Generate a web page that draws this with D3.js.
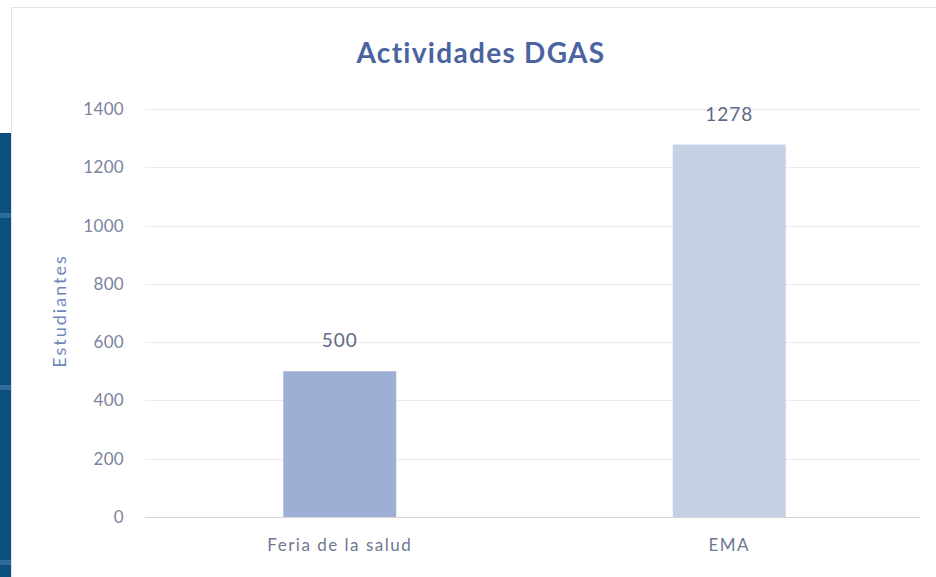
<!DOCTYPE html>
<html>
<head>
<meta charset="utf-8">
<script src="https://cdn.jsdelivr.net/npm/d3@7"></script>
<style>
  body { margin: 0; background: #ffffff; }
  svg { display: block; font-family: Lato, "Open Sans", sans-serif; }
</style>
</head>
<body>
<div class="container"></div>
<script>
const width = 936;
const height = 577;

const categories = ["Feria de la salud", "EMA"];
const students = [500, 1278];
const barColors = ["#9eafd5", "#c6d0e4"];
const yTicks = [0, 200, 400, 600, 800, 1000, 1200, 1400];

const margin = {top: 109, right: 12, bottom: 60, left: 145};

const svg = d3.select(".container")
    .append("svg")
    .attr("width", width)
    .attr("height", height);

// page background bits: blue strip on the left + chart frame
svg.append("rect")
    .attr("x", 0).attr("y", 133)
    .attr("width", 11).attr("height", height - 133)
    .attr("fill", "#0c5082");
[213, 385, 560].forEach(y => {
    svg.append("rect")
        .attr("x", 0).attr("y", y)
        .attr("width", 11).attr("height", 5)
        .attr("fill", "#2f6d99");
});
svg.append("line")
    .attr("x1", 11.5).attr("x2", 11.5)
    .attr("y1", 7).attr("y2", height)
    .attr("stroke", "#e2e2e2");
svg.append("line")
    .attr("x1", 11).attr("x2", width)
    .attr("y1", 7.5).attr("y2", 7.5)
    .attr("stroke", "#e2e2e2");

const x = d3.scaleBand()
    .domain(categories)
    .range([margin.left, width - margin.right])
    .paddingInner(0.71)
    .paddingOuter(0.355);

const y = d3.scaleLinear()
    .domain([0, 1400])
    .range([height - margin.bottom, margin.top]);

// gridlines
svg.append("g")
    .selectAll("line")
    .data(yTicks)
    .enter()
    .append("line")
    .attr("x1", margin.left)
    .attr("x2", width - 16)
    .attr("y1", d => Math.round(y(d)) + 0.5)
    .attr("y2", d => Math.round(y(d)) + 0.5)
    .attr("stroke", d => d === 0 ? "#d6d6d6" : "#ececec")
    .attr("stroke-width", 1);

// y axis labels
const yAxis = d3.axisLeft(y)
    .tickValues(yTicks)
    .tickFormat(d3.format("d"))
    .tickSize(0)
    .tickPadding(21);

svg.append("g")
    .attr("transform", `translate(${margin.left},0)`)
    .call(yAxis)
    .call(g => g.select(".domain").remove())
    .selectAll("text")
    .attr("fill", "#7b849c")
    .attr("font-size", 17)
    .attr("letter-spacing", 0.3)
    .attr("font-family", "Lato, sans-serif");

// bars
svg.append("g")
    .selectAll("rect")
    .data(categories)
    .enter()
    .append("rect")
    .attr("x", d => x(d))
    .attr("y", (d, i) => y(students[i]))
    .attr("width", x.bandwidth())
    .attr("height", (d, i) => y(0) - y(students[i]))
    .attr("fill", (d, i) => barColors[i]);

// value labels
svg.append("g")
    .selectAll("text")
    .data(categories)
    .enter()
    .append("text")
    .attr("x", d => x(d) + x.bandwidth() / 2)
    .attr("y", (d, i) => y(students[i]) - 24)
    .attr("text-anchor", "middle")
    .attr("fill", "#5f6a86")
    .attr("font-size", 19)
    .attr("letter-spacing", 1)
    .text((d, i) => students[i]);

// x axis labels
const xAxis = d3.axisBottom(x).tickSize(0).tickPadding(22);
svg.append("g")
    .attr("transform", `translate(0,${y(0)})`)
    .call(xAxis)
    .call(g => g.select(".domain").remove())
    .selectAll("text")
    .attr("fill", "#6f7891")
    .attr("font-size", 17)
    .attr("letter-spacing", 1.5)
    .attr("font-family", "Lato, sans-serif");

// title
svg.append("text")
    .attr("x", 481)
    .attr("y", 63)
    .attr("text-anchor", "middle")
    .attr("fill", "#4a64a0")
    .attr("font-size", 28)
    .attr("font-weight", "bold")
    .attr("letter-spacing", 1.3)
    .text("Actividades DGAS");

// y axis title
svg.append("text")
    .attr("transform", "translate(66,311) rotate(-90)")
    .attr("text-anchor", "middle")
    .attr("fill", "#6f85b8")
    .attr("font-size", 18)
    .attr("letter-spacing", 2)
    .text("Estudiantes");
</script>
</body>
</html>
